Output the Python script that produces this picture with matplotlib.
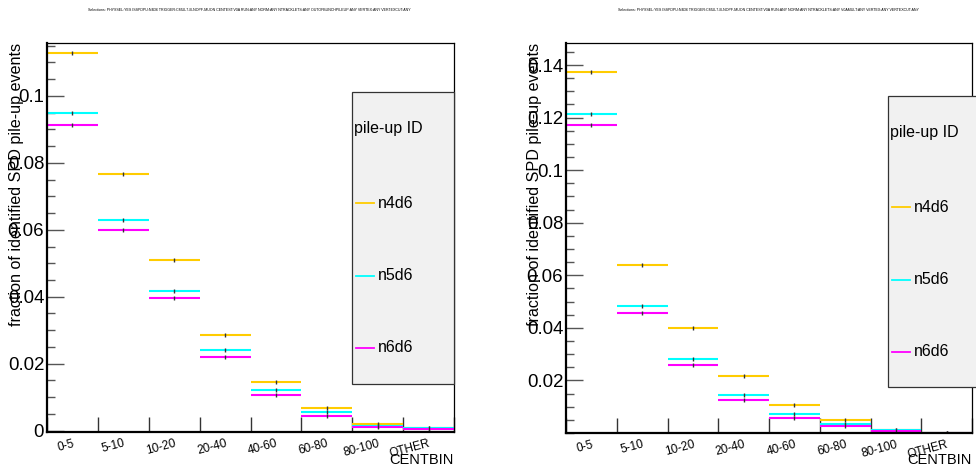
import matplotlib
matplotlib.use('Agg')
import matplotlib.pyplot as plt
from matplotlib.patches import Rectangle
from matplotlib.lines import Line2D
import numpy as np

plt.rcParams['font.family'] = ['Liberation Sans', 'DejaVu Sans']

# ---------------- data ----------------
centbins = ['0-5', '5-10', '10-20', '20-40', '40-60', '60-80', '80-100', 'OTHER']
series_names = ['n4d6', 'n5d6', 'n6d6']
series_colors = ['#ffcc00', '#00ffff', '#ff00ff']

# left pad
left_n4d6 = [0.1128, 0.0767, 0.0509, 0.0286, 0.0145, 0.0069, 0.0021, 0.0009]
left_n5d6 = [0.0948, 0.0630, 0.0418, 0.0240, 0.0121, 0.0055, 0.0015, 0.0007]
left_n6d6 = [0.0914, 0.0600, 0.0396, 0.0221, 0.0108, 0.0044, 0.0010, 0.0005]

# right pad
right_n4d6 = [0.1375, 0.0638, 0.0398, 0.0217, 0.0106, 0.0050, 0.0013, 0.0]
right_n5d6 = [0.1213, 0.0485, 0.0281, 0.0144, 0.0071, 0.0033, 0.0010, 0.0]
right_n6d6 = [0.1173, 0.0455, 0.0257, 0.0127, 0.0058, 0.0026, 0.0007, 0.0]

left_title = ('Selections: PHYSSEL:YES ISSPDPU:N4D6 TRIGGER:CMUL7-B-NOPF-MUON CENTEST:V0A '
              'RUN:ANY NORM:ANY NTRACKLETS:ANY OUTOFBUNCHPILEUP:ANY VERTEX:ANY VERTEXCUT:ANY')
right_title = ('Selections: PHYSSEL:YES ISSPDPU:N4D6 TRIGGER:CMUL7-B-NOPF-MUON CENTEST:V0A '
               'RUN:ANY NORM:ANY NTRACKLETS:ANY V0AMULT:ANY VERTEX:ANY VERTEXCUT:ANY')

ylabel = 'fraction of identified SPD pile-up events'

W, H = 976, 471
fig = plt.figure(figsize=(W / 100, H / 100), dpi=100)


def fx(x):
    return x / W


def fy(y):
    return 1 - y / H


def draw_pad(rect, series, ylim, yticks, title, title_x, ylab_x, legend_box):
    x0, y0, x1, y1 = rect
    ax = fig.add_axes([fx(x0), fy(y1), (x1 - x0) / W, (y1 - y0) / H])
    xc = np.arange(len(centbins)) + 0.5
    for vals, col in zip(series, series_colors):
        ax.errorbar(xc, vals, xerr=0.5, fmt='none', ecolor=col, elinewidth=1.5, capsize=0)
        ax.plot(xc, vals, ls='none', marker='|', ms=3, mew=1.0, color='#333333')
    ax.set_xlim(0, len(centbins))
    ax.set_ylim(*ylim)

    ax.set_xticks(np.arange(len(centbins) + 1))
    ax.set_xticklabels([])
    ax.tick_params(axis='x', direction='in', length=11, width=1.0, color='#333333')
    for i, lab in enumerate(centbins):
        ax.text(xc[i], -0.014, lab, transform=ax.get_xaxis_transform(),
                rotation=15, rotation_mode='anchor', ha='right', va='top', fontsize=8.6)

    ax.set_yticks(yticks)
    ax.set_yticklabels(['%g' % t for t in yticks])
    ax.set_yticks(np.arange(0, ylim[1], 0.005), minor=True)
    ax.tick_params(axis='y', which='major', direction='in', length=12, width=1.0,
                   color='#555555', labelsize=13.4, pad=2)
    ax.tick_params(axis='y', which='minor', direction='in', length=6, width=1.0,
                   color='#555555')

    ax.spines['left'].set_linewidth(1.6)
    ax.spines['bottom'].set_linewidth(1.6)
    ax.spines['top'].set_linewidth(0.9)
    ax.spines['right'].set_linewidth(0.9)

    # axis titles
    fig.text(fx(ylab_x), fy(y0), ylabel, rotation=90, ha='center', va='top', fontsize=11.6)
    fig.text(fx(x1), fy(467), 'CENTBIN', ha='right', va='bottom', fontsize=10.5)
    fig.text(fx(title_x), fy(10), title, ha='center', va='center', fontsize=2.6)

    # legend
    lx0, ly0, lx1, ly1 = legend_box
    fig.add_artist(Rectangle((fx(lx0), fy(ly1)), (lx1 - lx0) / W, (ly1 - ly0) / H,
                             transform=fig.transFigure, facecolor='#f1f1f1',
                             edgecolor='#333333', lw=0.9, zorder=5))
    fig.text(fx(lx0 + 2), fy(ly0 + 37), 'pile-up ID', ha='left', va='center',
             fontsize=11.5, zorder=6)
    for k, (name, col) in enumerate(zip(series_names, series_colors)):
        yy = ly0 + 111 + k * 72.5
        fig.add_artist(Line2D([fx(lx0 + 4), fx(lx0 + 22)], [fy(yy), fy(yy)],
                              transform=fig.transFigure, color=col, lw=1.3, zorder=6))
        fig.text(fx(lx0 + 26), fy(yy), name, ha='left', va='center', fontsize=11.5, zorder=6)
    return ax


draw_pad((47, 43, 454, 432), [left_n4d6, left_n5d6, left_n6d6],
         (-0.0004, 0.1158), [0, 0.02, 0.04, 0.06, 0.08, 0.1],
         left_title, 249, 17, (352, 92, 454, 384))

draw_pad((566, 43, 972, 433), [right_n4d6, right_n5d6, right_n6d6],
         (0.0007, 0.1484), [0.02, 0.04, 0.06, 0.08, 0.1, 0.12, 0.14],
         right_title, 768, 535, (888, 96, 990, 387))

fig.savefig('out.png', dpi=100)
